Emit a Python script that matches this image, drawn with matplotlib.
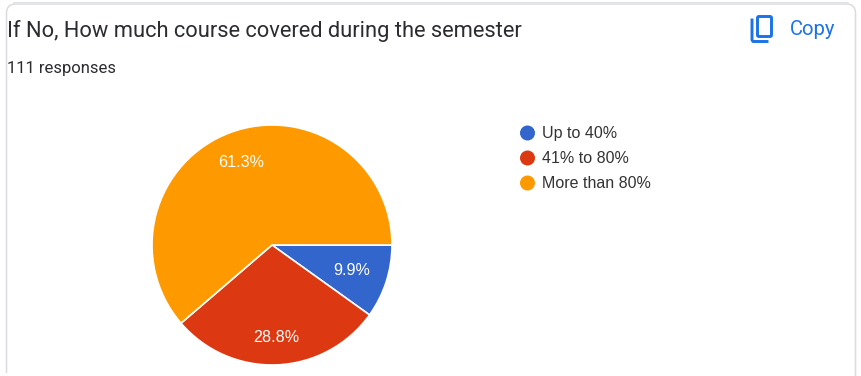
import matplotlib
matplotlib.use("Agg")
import matplotlib.pyplot as plt
from matplotlib.patches import FancyBboxPatch, Circle
from matplotlib.lines import Line2D

title = "If No, How much course covered during the semester"
subtitle = "111 responses"
copy_label = "Copy"
categories = ["Up to 40%", "41% to 80%", "More than 80%"]
values = [9.9, 28.8, 61.3]
colors = ["#3366cc", "#dc3912", "#ff9900"]

W, H = 861, 376
plt.rcParams['font.family'] = ['Roboto', 'DejaVu Sans']
fig = plt.figure(figsize=(W / 100, H / 100), dpi=100, facecolor="white")
bg = fig.add_axes([0, 0, 1, 1])
bg.set_xlim(0, W)
bg.set_ylim(H, 0)
bg.axis("off")

# card outline
bg.add_patch(FancyBboxPatch((6.5, 4), 849, 385, boxstyle="round,pad=0,rounding_size=9",
                            fc="white", ec="#dadce0", lw=1.1))
bg.plot([14, 848], [2.6, 2.6], color="#e3e4e6", lw=1.4, solid_capstyle="round")
bg.add_patch(plt.Rectangle((0, 372.5), 700, 4, fc="white", ec="none", zorder=2))

bg.text(7, 31.5, title, fontsize=15.75, color="#2b2c2f", va="center", ha="left")
bg.text(7, 69, subtitle, fontsize=11.95, color="#2b2c2f", va="center", ha="left")

# copy icon
blue = "#1a73e8"
bg.add_patch(FancyBboxPatch((757.5, 16.5), 14, 20, boxstyle="round,pad=0,rounding_size=1.5",
                            fc="none", ec=blue, lw=2.1))
bg.add_line(Line2D([752, 752, 753, 767], [20, 40, 41.5, 41.5], color=blue, lw=2.1,
                   solid_joinstyle="round"))
bg.text(789.5, 29.5, copy_label, fontsize=14.6, color=blue, va="center", ha="left")

# pie
cx, cy, r = 272, 245, 120
pie_ax = fig.add_axes([(cx - r) / W, 1 - (cy + r) / H, 2 * r / W, 2 * r / H])
wedges, _, autotexts = pie_ax.pie(
    values, colors=colors, startangle=0, counterclock=False, radius=1,
    autopct="%.1f%%", pctdistance=0.72,
    wedgeprops=dict(edgecolor="white", linewidth=1.2),
    textprops=dict(fontfamily=["Liberation Sans", "DejaVu Sans"], fontsize=11.6, color="white"),
)
# each percentage sits at its own distance along the slice's mid-angle
for t, factor in zip(autotexts, [0.965, 1.075, 1.015]):
    x, y = t.get_position()
    t.set_position((x * factor, y * factor))
pie_ax.set_xlim(-1, 1)
pie_ax.set_ylim(-1, 1)
pie_ax.set_aspect("equal")
pie_ax.patch.set_alpha(0)

# legend
legend_y = [133, 158, 183]
for name, color, y in zip(categories, colors, legend_y):
    bg.add_patch(Circle((527.5, y), 7.5, fc=color, ec="none"))
    bg.text(542, y + 0.7, name, fontsize=11.5, color="#333333", va="center", ha="left",
            family=["Liberation Sans", "DejaVu Sans"])

fig.savefig("out.png", dpi=100, facecolor="white")
